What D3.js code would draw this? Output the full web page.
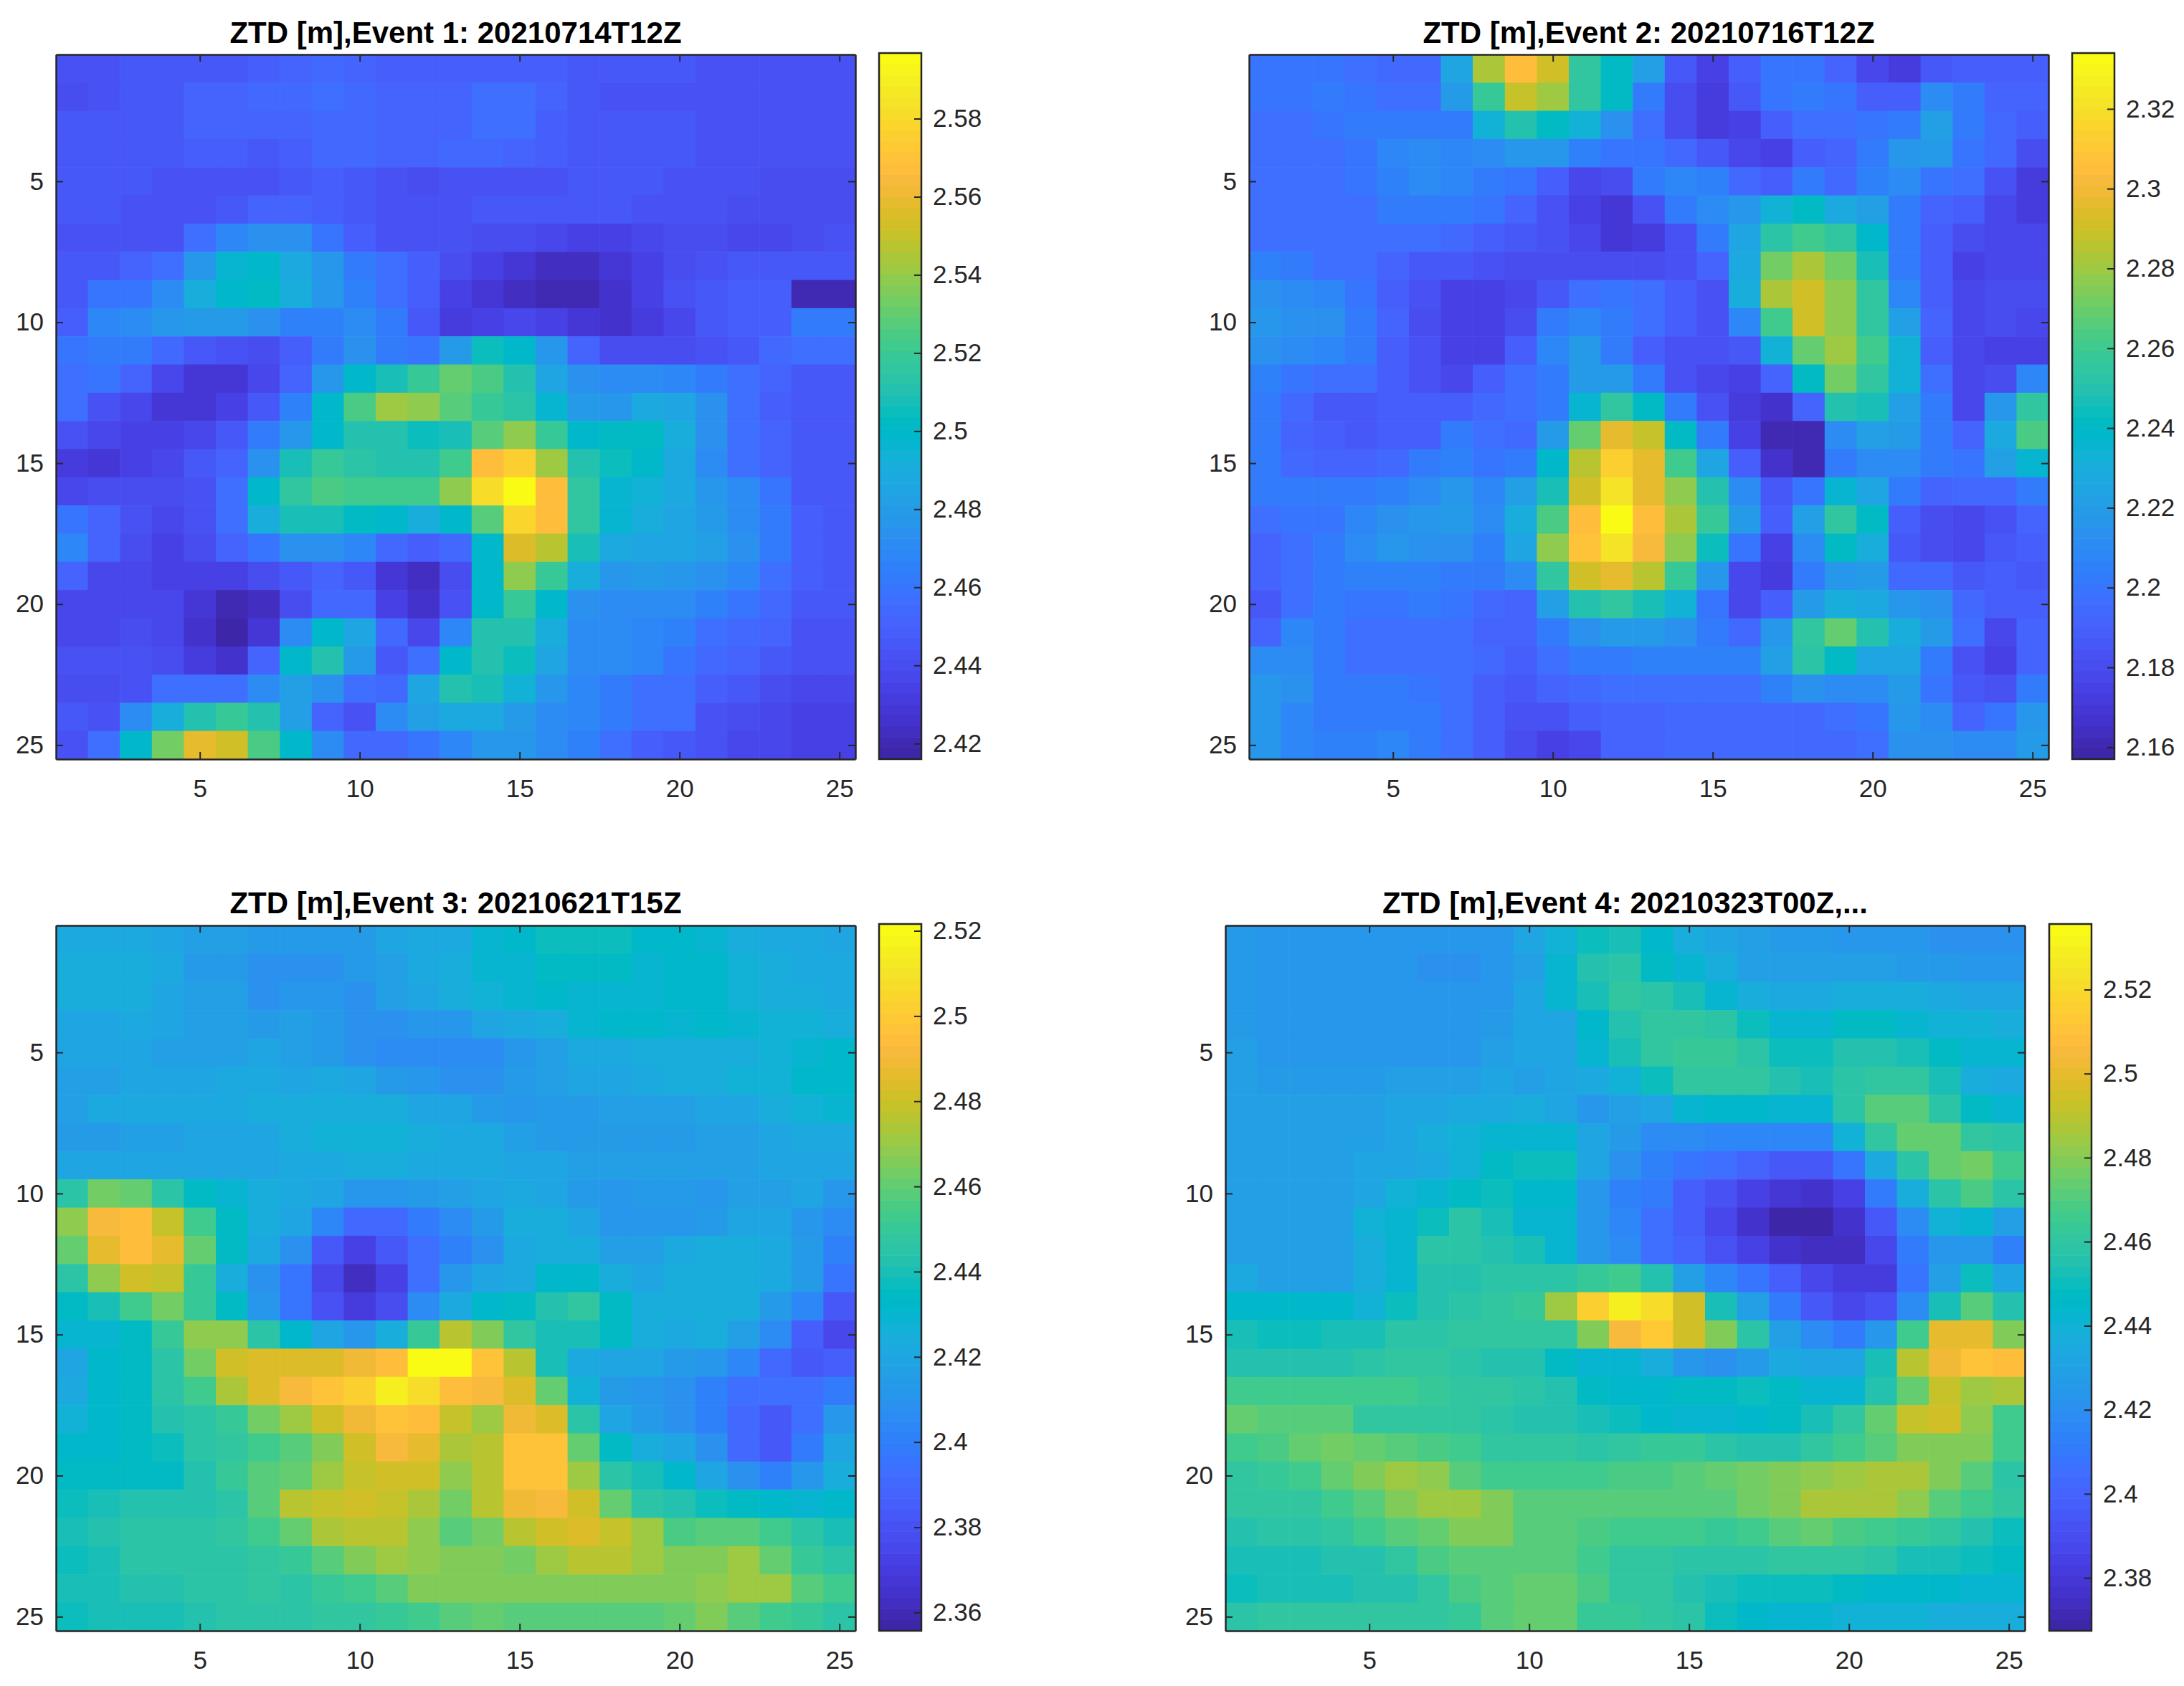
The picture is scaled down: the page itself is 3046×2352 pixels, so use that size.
<!DOCTYPE html>
<html><head><meta charset="utf-8">
<script src="https://d3js.org/d3.v7.min.js"></script>
<style>
html,body{margin:0;padding:0;background:#fff}
svg{display:block}
text{font-family:"Liberation Sans",Arial,sans-serif}
</style></head><body>
<svg id="chart" width="3046" height="2352"></svg>
<script>
// ZTD values, in millimetres above 2 m (row 1 at top)
const event1Values = [
[444,444,445,445,446,447,449,451,455,450,449,449,449,449,449,449,446,445,445,445,444,444,443,443,443],
[441,443,445,446,450,451,455,455,456,455,452,452,452,456,458,450,445,444,444,444,443,443,443,442,442],
[446,446,447,447,450,450,451,451,453,455,452,452,452,458,458,449,445,445,445,445,444,443,442,442,442],
[447,447,447,447,449,449,446,449,453,453,450,450,453,453,452,448,447,446,446,445,444,443,442,442,442],
[446,446,445,444,442,442,442,445,449,447,443,441,442,443,444,444,445,445,445,443,442,442,441,441,441],
[446,446,443,443,443,445,450,450,449,445,443,443,444,445,445,445,445,445,444,443,442,441,441,441,441],
[444,444,444,444,456,468,474,474,461,449,443,443,443,441,440,436,435,435,438,439,439,438,438,441,442],
[445,447,451,458,478,496,500,488,476,462,458,449,440,433,428,424,424,428,435,440,442,445,445,445,446],
[445,459,461,472,490,500,502,490,476,466,458,449,435,428,422,419,420,425,435,442,447,449,449,421,421],
[449,468,471,476,480,480,473,466,466,472,464,446,432,434,438,433,428,427,432,437,445,449,449,462,463],
[459,464,462,455,445,442,441,448,464,474,464,460,480,506,500,477,451,441,440,440,442,446,453,458,458],
[457,460,452,436,428,428,436,450,476,498,508,520,530,526,512,484,473,472,472,467,462,457,452,447,446],
[458,444,436,430,430,434,445,466,498,526,542,538,528,518,513,496,480,478,488,486,473,458,449,447,447],
[444,438,434,433,436,447,462,478,500,512,510,505,508,527,540,518,500,502,502,490,475,458,450,447,446],
[432,430,433,437,446,452,475,507,518,514,510,512,522,567,575,542,511,505,500,488,472,458,451,447,445],
[438,440,440,439,443,458,500,517,525,522,522,522,538,580,596,566,515,497,494,488,478,470,460,447,445],
[460,452,443,437,444,458,490,507,507,503,498,492,498,528,578,568,515,497,490,486,480,472,462,449,447],
[468,451,440,435,439,450,459,474,475,468,455,448,454,498,555,548,508,488,486,484,482,474,464,449,447],
[451,438,436,434,433,433,441,446,450,447,430,423,440,498,538,518,490,478,480,478,473,468,458,449,447],
[437,437,437,437,428,420,422,440,455,453,435,427,444,500,518,498,475,472,472,470,466,461,455,447,446],
[438,438,439,437,427,416,430,472,498,486,455,438,467,510,510,490,470,470,468,466,458,455,450,444,443],
[442,442,442,440,432,426,452,500,512,480,447,456,498,512,505,485,472,470,468,460,455,450,446,444,444],
[439,440,444,456,456,458,472,482,474,456,455,486,510,507,495,478,468,464,458,456,449,446,440,438,438],
[445,444,472,492,512,518,510,482,450,444,470,482,488,488,480,470,468,462,458,456,442,439,436,434,434],
[443,458,500,534,560,552,526,498,470,455,455,461,468,476,478,472,465,457,449,446,442,438,436,434,434]];
const event2Values = [
[200,200,200,197,195,195,226,283,305,291,256,240,222,186,175,188,200,200,192,178,172,186,190,188,188],
[200,200,202,200,198,196,218,258,288,280,256,240,204,180,173,187,200,204,200,190,188,212,204,192,192],
[198,198,200,202,204,204,204,234,250,240,232,215,196,180,173,176,190,198,198,200,204,222,202,194,190],
[197,197,197,200,207,211,208,210,217,217,205,200,200,194,186,178,176,188,192,204,216,218,201,193,180],
[197,197,197,199,206,211,209,202,199,190,178,180,202,207,205,194,190,204,195,205,212,200,197,184,172],
[196,196,196,198,202,204,203,199,192,184,174,169,182,204,212,216,232,242,228,222,202,192,188,178,172],
[197,197,197,196,197,197,194,190,187,183,177,170,172,184,202,226,252,262,256,238,204,188,180,178,178],
[206,202,198,196,192,187,186,182,180,180,180,180,180,182,192,228,272,284,272,246,204,190,176,178,178],
[214,210,208,200,190,182,175,174,179,186,196,200,196,188,184,230,284,291,276,254,208,190,178,180,180],
[216,214,214,204,192,180,175,175,180,202,208,204,196,188,182,208,262,290,276,256,222,192,178,180,178],
[214,212,208,204,190,182,176,176,190,208,218,204,190,184,184,186,234,270,280,262,234,190,178,176,176],
[206,200,196,196,188,184,178,188,198,204,218,218,202,184,178,174,192,240,272,254,232,196,178,180,208],
[202,194,187,187,188,188,190,194,198,203,236,256,242,204,182,172,168,192,250,248,222,204,178,216,256],
[204,192,189,186,188,190,202,198,194,220,268,296,288,240,202,176,160,160,210,222,218,202,192,228,264],
[202,194,192,192,193,202,206,200,204,238,286,314,298,262,226,190,168,161,204,212,210,204,200,222,236],
[202,202,202,204,206,212,216,209,222,248,292,322,298,276,250,210,185,200,236,226,202,192,194,194,204],
[196,200,200,208,214,216,218,212,230,264,305,334,306,284,258,218,188,222,254,240,188,180,178,184,192],
[192,196,204,210,216,214,214,206,226,278,308,322,303,278,243,200,176,212,240,230,186,180,178,186,190],
[192,196,204,206,206,206,204,202,212,256,292,296,286,258,216,178,172,202,216,218,194,194,186,188,186],
[186,198,202,200,200,202,200,194,192,222,250,254,246,232,200,178,190,220,230,228,216,214,194,190,188],
[192,208,204,198,196,196,196,192,192,202,214,220,220,214,202,194,216,256,268,250,230,218,196,178,192],
[212,212,202,198,198,198,196,193,190,198,202,204,206,206,206,206,222,252,242,226,224,202,182,174,192],
[216,214,204,204,204,200,196,190,186,192,194,197,197,197,197,198,206,214,212,212,218,200,186,182,204],
[216,208,204,202,204,202,196,190,184,182,190,192,192,194,194,194,194,194,196,200,216,210,192,200,216],
[216,208,206,206,208,204,196,190,180,176,178,192,192,194,194,194,194,194,194,198,214,214,212,210,218]];
const event3Values = [
[421,421,423,420,417,416,414,413,413,415,419,423,423,429,432,438,438,437,431,432,430,424,423,421,420],
[424,424,424,421,415,414,410,410,410,413,416,421,424,429,430,434,436,436,430,431,432,428,424,422,422],
[424,424,424,420,416,416,410,411,411,410,417,420,424,427,430,433,430,430,430,432,431,428,425,424,422],
[420,420,421,419,417,417,415,417,413,410,410,411,412,419,422,424,430,431,431,430,431,429,428,426,425],
[419,419,419,417,416,417,418,417,414,409,407,405,405,407,412,417,422,423,424,424,424,425,428,430,431],
[417,417,420,420,420,421,422,420,421,419,414,411,409,408,414,416,420,420,422,424,424,426,428,431,432],
[416,422,423,423,422,422,424,424,425,425,425,420,418,414,412,414,415,417,416,416,418,420,424,428,429],
[415,415,416,417,418,419,420,424,426,428,428,425,423,422,416,414,414,413,415,414,416,417,420,421,421],
[418,418,420,420,420,420,420,422,423,424,424,423,423,422,420,418,416,416,416,416,416,417,418,418,418],
[446,464,461,444,434,430,424,423,418,412,411,413,416,420,422,420,414,412,413,413,412,417,417,418,412],
[468,491,494,480,453,436,424,418,403,390,390,398,406,415,424,424,418,411,411,412,415,420,420,412,405],
[461,486,494,487,461,436,422,410,384,372,382,394,402,410,421,425,425,416,417,423,425,425,423,414,402],
[444,468,482,480,451,424,410,397,374,362,372,394,412,420,422,432,432,424,418,424,425,425,422,414,395],
[434,440,453,464,450,436,411,397,380,369,378,407,422,432,434,442,449,434,424,424,424,424,414,403,382],
[429,430,436,451,468,468,446,431,418,412,424,451,475,466,447,440,440,434,424,423,424,417,405,385,376],
[420,432,434,445,464,482,484,484,484,489,495,520,520,497,475,441,423,420,418,415,411,403,390,383,385],
[423,432,434,444,453,473,483,491,497,503,514,508,495,491,485,461,426,413,412,408,400,393,392,392,398],
[428,431,434,442,444,451,464,472,481,488,497,494,479,470,488,484,446,420,415,408,400,390,384,392,412],
[432,433,434,438,444,447,454,457,466,481,491,486,474,475,497,497,461,434,424,418,410,390,382,398,420],
[434,436,436,436,443,451,459,460,471,480,482,481,468,477,498,497,472,444,439,432,420,410,402,412,424],
[437,441,442,442,443,445,459,475,480,481,479,474,464,475,488,491,481,461,446,442,438,434,432,430,431],
[441,442,445,445,445,447,453,461,474,477,475,468,459,464,475,481,483,479,470,455,457,457,453,444,439],
[438,441,444,445,445,446,447,451,457,466,470,468,466,466,464,472,477,477,472,466,466,472,461,451,444],
[439,440,442,443,445,446,447,446,450,454,457,466,466,466,466,466,466,466,467,466,469,470,472,459,453],
[438,439,441,441,442,444,445,446,448,448,450,454,459,461,457,457,457,459,459,461,466,459,453,451,446]];
const event4Values = [
[426,423,423,423,423,423,423,423,425,431,440,449,452,444,436,431,428,426,426,424,424,423,421,420,420],
[426,423,423,423,423,423,422,422,424,430,441,456,457,448,441,437,430,429,428,428,428,427,426,425,425],
[427,424,424,424,424,424,423,423,425,431,441,454,460,458,452,442,437,434,434,436,438,438,434,432,432],
[426,424,424,424,424,424,423,423,427,431,431,445,455,460,460,457,450,442,442,448,448,442,440,440,438],
[430,425,425,425,425,425,424,424,428,431,431,442,452,462,464,464,458,450,450,455,455,452,448,442,441],
[429,427,427,427,427,428,429,429,431,430,431,434,440,450,460,462,460,455,453,458,462,460,452,438,435],
[428,428,428,428,430,433,433,434,435,436,433,425,428,432,443,445,445,442,443,458,470,470,458,448,443],
[429,429,429,429,430,433,437,439,441,442,442,432,426,419,418,416,415,415,417,440,462,474,474,460,458],
[430,430,430,430,431,433,435,440,448,450,451,432,422,414,408,406,400,395,395,408,434,458,475,477,465],
[430,430,430,430,433,440,443,448,450,445,445,424,414,410,397,393,385,378,376,385,410,436,458,468,458],
[430,430,430,430,439,443,451,457,453,442,442,424,416,405,398,386,376,370,369,376,395,418,440,442,428],
[428,428,428,428,437,442,457,458,456,452,441,424,419,405,400,392,385,376,374,375,388,410,424,423,414],
[434,430,430,430,437,442,455,455,458,458,458,463,465,455,430,416,408,398,388,382,383,408,430,450,432],
[445,445,445,444,440,451,456,458,460,463,484,515,530,522,495,453,429,410,396,388,392,418,452,470,455],
[452,451,451,453,454,457,457,460,462,462,462,480,505,512,495,480,457,430,418,412,424,465,500,500,479],
[456,456,455,456,457,460,460,458,456,455,448,443,442,438,425,422,426,435,432,432,452,490,503,510,508],
[465,465,465,465,465,465,464,462,460,458,455,447,444,444,448,448,450,448,443,443,455,475,492,485,487],
[473,472,472,470,462,462,460,460,458,456,456,453,450,445,442,441,445,448,453,462,475,492,495,482,466],
[466,468,475,477,474,470,468,466,462,460,460,458,462,464,464,458,456,456,460,465,472,480,480,478,466],
[460,463,465,473,480,484,482,470,465,466,466,466,468,468,472,474,476,478,482,485,488,488,478,470,458],
[460,460,462,466,470,479,484,484,480,472,472,470,470,470,471,472,476,480,486,487,487,482,470,465,460],
[456,458,458,462,466,470,473,478,478,472,472,468,466,465,465,463,467,470,473,468,465,464,460,456,450],
[452,452,452,456,456,460,468,470,470,472,472,465,462,462,458,458,458,460,460,460,458,454,452,450,447],
[450,452,452,452,456,456,462,468,472,474,474,468,462,460,455,454,450,450,450,448,446,444,444,442,442],
[458,460,462,462,462,460,462,464,470,474,474,464,464,460,458,450,445,443,441,439,439,439,438,437,437]];
const eventTitles = ["ZTD [m],Event 1: 20210714T12Z","ZTD [m],Event 2: 20210716T12Z","ZTD [m],Event 3: 20210621T15Z","ZTD [m],Event 4: 20210323T00Z,..."];
const colorLimits = [[2.416,2.5968],[2.157,2.334],[2.3557,2.5216],[2.3674,2.5356]];
const colorTicks = [
 [2.42,2.44,2.46,2.48,2.5,2.52,2.54,2.56,2.58],
 [2.16,2.18,2.2,2.22,2.24,2.26,2.28,2.3,2.32],
 [2.36,2.38,2.4,2.42,2.44,2.46,2.48,2.5,2.52],
 [2.38,2.4,2.42,2.44,2.46,2.48,2.5,2.52]];
const gridIndex = d3.range(1,26);
const axisTicks = [5,10,15,20,25];

// MATLAB parula colormap, 64 levels
const parula = [[.2422,.1504,.6603],[.2504,.165,.7076],[.2578,.1818,.7511],[.2647,.1978,.7952],[.2706,.2147,.8364],[.2751,.2342,.871],[.2783,.2559,.8991],[.2803,.2782,.9221],[.2813,.3006,.9414],[.281,.3228,.9579],[.2795,.3447,.9717],[.276,.3667,.9829],[.2699,.3892,.9906],[.2602,.4123,.9952],[.244,.4358,.9988],[.2206,.4603,.9973],[.1963,.4847,.9892],[.1834,.5074,.9798],[.1786,.5289,.9682],[.1764,.5499,.952],[.1687,.5703,.9359],[.154,.5902,.9218],[.146,.6091,.9079],[.138,.6276,.8973],[.1248,.6459,.8883],[.1113,.6635,.8763],[.0952,.6798,.8598],[.0689,.6948,.8394],[.0297,.7082,.8163],[.0036,.7203,.7917],[.0067,.7312,.766],[.0433,.7411,.7394],[.0964,.75,.712],[.1408,.7584,.6842],[.1717,.767,.6554],[.1938,.7758,.6251],[.2161,.7843,.5923],[.247,.7918,.5567],[.2906,.7973,.5188],[.3406,.8008,.4789],[.3909,.8029,.4354],[.4456,.8024,.3909],[.5044,.7993,.348],[.5616,.7942,.3045],[.6174,.7876,.2612],[.672,.7793,.2227],[.7242,.7698,.191],[.7738,.7598,.1646],[.8203,.7498,.1535],[.8634,.7406,.1596],[.9035,.733,.1774],[.9393,.7288,.21],[.9728,.7298,.2394],[.9956,.7434,.2371],[.997,.7659,.2199],[.9952,.7893,.2028],[.9892,.8136,.1885],[.9786,.8386,.1766],[.9676,.8639,.1643],[.961,.889,.1537],[.9597,.9135,.1423],[.9628,.9373,.1265],[.9691,.9606,.1064],[.9769,.9839,.0805]]
  .map(c=>d3.rgb(c[0]*255,c[1]*255,c[2]*255).formatHex());

const panels = [
 {values:event1Values,x0:78,x1:1193,y0:76,y1:1059,cb0:1226,cb1:1285,titleY:45},
 {values:event2Values,x0:1742,x1:2857,y0:76,y1:1059,cb0:2890,cb1:2949,titleY:45},
 {values:event3Values,x0:78,x1:1193,y0:1291,y1:2275,cb0:1226,cb1:1285,titleY:1259},
 {values:event4Values,x0:1709,x1:2824,y0:1291,y1:2275,cb0:2858,cb1:2917,titleY:1259}
];
const ink = "#262626";
const svg = d3.select("#chart");
svg.append("rect").attr("width",3046).attr("height",2352).attr("fill","#fff");

function styleAxis(g){
  g.select(".domain").attr("stroke",ink).attr("stroke-width",2.5);
  g.selectAll(".tick line").attr("stroke",ink).attr("stroke-width",2);
  g.selectAll(".tick text").attr("fill",ink).attr("font-size",35).style("font-family",'"Liberation Sans",Arial,sans-serif');
}

panels.forEach((p,i)=>{
  const g = svg.append("g");
  const x = d3.scaleLinear().domain([0.5,25.5]).range([p.x0,p.x1]);
  const y = d3.scaleLinear().domain([0.5,25.5]).range([p.y0,p.y1]);
  const color = d3.scaleQuantize().domain(colorLimits[i]).range(parula);
  const cy = d3.scaleLinear().domain(colorLimits[i]).range([p.y1,p.y0-2]);

  const cells = p.values.flatMap((row,r)=>row.map((v,c)=>({r:gridIndex[r],c:gridIndex[c],v:2+v/1000})));
  g.append("g").selectAll("rect").data(cells).join("rect")
    .attr("x",d=>x(d.c-.5)).attr("y",d=>y(d.r-.5))
    .attr("width",x(2)-x(1)+.6).attr("height",y(2)-y(1)+.6)
    .attr("fill",d=>color(d.v));

  // axes on all four sides; inward ticks, labels on left and bottom
  g.append("g").attr("transform",`translate(0,${p.y1})`)
    .call(d3.axisBottom(x).tickValues(axisTicks).tickFormat(d3.format("d")).tickSizeInner(-10).tickSizeOuter(0).tickPadding(28)).call(styleAxis);
  g.append("g").attr("transform",`translate(0,${p.y0})`)
    .call(d3.axisTop(x).tickValues(axisTicks).tickFormat("").tickSizeInner(-10).tickSizeOuter(0)).call(styleAxis);
  g.append("g").attr("transform",`translate(${p.x0},0)`)
    .call(d3.axisLeft(y).tickValues(axisTicks).tickFormat(d3.format("d")).tickSizeInner(-10).tickSizeOuter(0).tickPadding(17)).call(styleAxis);
  g.append("g").attr("transform",`translate(${p.x1},0)`)
    .call(d3.axisRight(y).tickValues(axisTicks).tickFormat("").tickSizeInner(-10).tickSizeOuter(0)).call(styleAxis);

  // title
  g.append("text").attr("x",(p.x0+p.x1)/2).attr("y",p.titleY).attr("dy","0.36em")
    .attr("text-anchor","middle").attr("font-weight","bold").attr("font-size",42).attr("fill","#000")
    .text(eventTitles[i]);

  // colorbar
  const levels = d3.range(parula.length);
  const lv = d3.scaleLinear().domain([0,parula.length]).range(cy.domain());
  g.append("g").selectAll("rect").data(levels).join("rect")
    .attr("x",p.cb0).attr("width",p.cb1-p.cb0)
    .attr("y",d=>cy(lv(d+1))).attr("height",d=>cy(lv(d))-cy(lv(d+1))+.6)
    .attr("fill",d=>parula[d]);
  g.append("rect").attr("x",p.cb0).attr("y",cy.range()[1]).attr("width",p.cb1-p.cb0).attr("height",cy.range()[0]-cy.range()[1])
    .attr("fill","none").attr("stroke",ink).attr("stroke-width",2.5);
  g.append("g").attr("transform",`translate(${p.cb1},0)`)
    .call(d3.axisRight(cy).tickValues(colorTicks[i]).tickFormat(d=>String(+d.toFixed(2))).tickSizeInner(-10).tickSizeOuter(0).tickPadding(16)).call(styleAxis)
    .select(".domain").attr("stroke","none");
});
</script>
</body></html>
